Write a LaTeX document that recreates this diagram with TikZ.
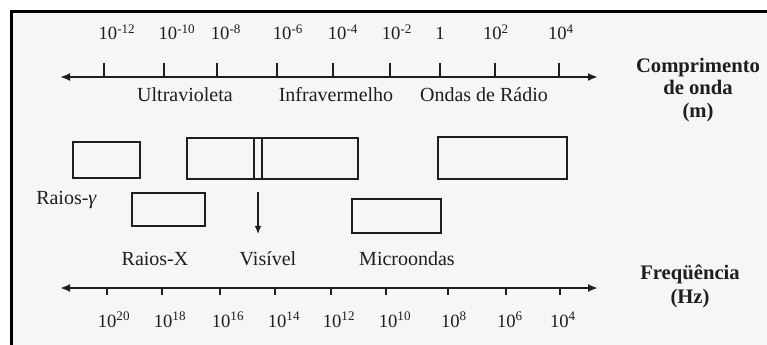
\documentclass[tikz,border=0pt]{standalone}
\usepackage{fontspec}
\setmainfont{Liberation Serif}
\usetikzlibrary{arrows.meta,fit}
\definecolor{panel}{HTML}{F6F6F6}
\definecolor{ink}{HTML}{1E1E1E}
\begin{document}
\begin{tikzpicture}[x=0.75pt,y=-0.75pt,
    axis/.style={ink,line width=1.5pt,{Latex[length=7.5pt,width=6pt]}-{Latex[length=7.5pt,width=6pt]}},
    tick/.style={ink,line width=0.8pt},
    band/.style={draw=ink,line width=1pt,inner sep=0pt},
    pointer/.style={ink,line width=0.9pt,-{Latex[length=6pt,width=5pt]}},
    lab/.style={ink,font=\fontsize{15}{18}\selectfont,anchor=base,inner sep=0pt},
    num/.style={ink,font=\fontsize{14}{16}\selectfont,anchor=base,inner sep=0pt},
    ttl/.style={ink,font=\fontsize{15.5}{18}\selectfont\bfseries,anchor=base,inner sep=0pt}]
  \useasboundingbox (0,0) rectangle (767,345);
  \fill[panel] (11,11) rectangle (767,345);
  \draw[black,line width=2.6pt] (11.7,345) -- (11.7,11.7) -- (767,11.7);
  % comprimento de onda
  \coordinate (wl) at (60,77);
  \coordinate (wr) at (598,77);
  \draw[axis] (wl) -- (wr);
  \foreach \t/\c/\l [count=\i] in {104/117/{10\textsuperscript{-12}},164/177/{10\textsuperscript{-10}},
      217/226/{10\textsuperscript{-8}},277/288/{10\textsuperscript{-6}},333/343/{10\textsuperscript{-4}},
      390/397/{10\textsuperscript{-2}},440/440/{1},495/496/{10\textsuperscript{2}},559/561/{10\textsuperscript{4}}}{
    \draw[tick] (\t,63) -- (\t,77);
    \node[num] (wn\i) at (\c,40) {\l};
  }
  \node[lab] (uv) at (185,102) {Ultravioleta};
  \node[lab] (ir) at (336,102) {Infravermelho};
  \node[lab] (radio) at (484,102) {Ondas de Rádio};
  \node[ttl] (wt1) at (698,73) {Comprimento};
  \node[ttl] (wt2) at (698,95) {de onda};
  \node[ttl] (wt3) at (698,118) {(m)};
  % faixas
  \node[band,fit={(73,142) (140,178)}] (gbox) {};
  \node[band,fit={(187,138) (358,179)}] (optbox) {};
  \node[band,fit={(438,137) (567,179)}] (rbox) {};
  \node[band,fit={(132,193) (205,226)}] (xbox) {};
  \node[band,fit={(352,199) (441,233)}] (mwbox) {};
  \foreach \v in {254,262}
    \draw[band] (optbox.north -| \v,0) -- (optbox.south -| \v,0);
  \node[lab,anchor=base west] (gam) at (36,205) {Raios-\textit{γ}};
  \coordinate (vtop) at (258,192);
  \coordinate (vend) at (258,234);
  \draw[pointer] (vtop) -- (vend);
  % frequencia
  \coordinate (fl) at (60,288);
  \coordinate (fr) at (598,288);
  \draw[axis] (fl) -- (fr);
  \foreach \t/\c/\e [count=\i] in {107/114/20,162/170/18,220/228/16,275/284/14,331/339/12,
      386/395/10,448/454/8,506/510/6,560/563/4}{
    \draw[tick] (\t,288) -- (\t,295);
    \node[num] (fn\i) at (\c,327) {10\textsuperscript{\e}};
  }
  \node[lab] (xray) at (155,266) {Raios-X};
  \node[lab] (vis) at (268,266) {Visível};
  \node[lab] (micro) at (407,266) {Microondas};
  \node[ttl] (ft1) at (690,280) {Freqüência};
  \node[ttl] (ft2) at (690,303) {(Hz)};
\end{tikzpicture}
\end{document}
